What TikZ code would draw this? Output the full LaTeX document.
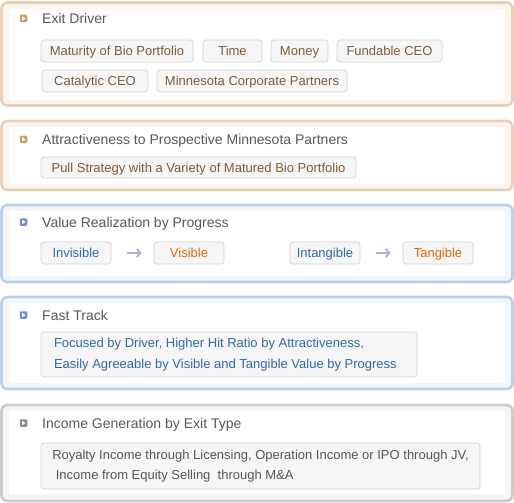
\documentclass[tikz,border=0pt]{standalone}
\usepackage{fontspec}
\setmainfont{Liberation Sans}
\usetikzlibrary{arrows.meta}
\definecolor{tanB}{HTML}{E7D1B6}
\definecolor{tanF}{HTML}{FAF5EF}
\definecolor{tanI}{HTML}{C9A062}
\definecolor{bluB}{HTML}{BBCFE8}
\definecolor{bluF}{HTML}{F2F6FB}
\definecolor{bluI}{HTML}{6F8FCF}
\definecolor{grayB}{HTML}{CBCBCB}
\definecolor{grayF}{HTML}{F5F5F5}
\definecolor{grayI}{HTML}{8C8C8C}
\definecolor{titleC}{HTML}{585858}
\definecolor{tagB}{HTML}{D2D2D2}
\definecolor{tagF}{HTML}{F6F6F6}
\definecolor{brownT}{HTML}{7D5B3B}
\definecolor{blueT}{HTML}{2F68B3}
\definecolor{orangeT}{HTML}{E8650E}
\definecolor{grayT}{HTML}{565656}
\definecolor{arrC}{HTML}{B4ADDA}
\begin{document}
\begin{tikzpicture}[x=1pt,y=-1pt,
  panel/.style={rounded corners=6pt,line width=2.6pt},
  tagbase/.style={draw=tagB,fill=tagF,rounded corners=3pt,line width=0.7pt,inner ysep=0pt},
  tag/.style={tagbase,minimum height=22pt,text height=9.3pt,text depth=0pt,font=\fontsize{13}{15}\selectfont},
  title/.style={anchor=base west,text=titleC,font=\fontsize{14}{16}\selectfont,inner sep=0pt},
  icon/.style={minimum size=7.5pt,inner sep=0pt,rounded corners=1.2pt},
  arr/.style={draw=arrC,line width=2pt,-{Straight Barb[length=3.5pt,width=8pt]}}]
\useasboundingbox (0,0) rectangle (514,503);
% panels
\draw[panel,draw=tanB,fill=tanF] (1.5,2.5) rectangle (512.5,105.5);
\fill[white] (9,9) rectangle (505,99.5);
\draw[panel,draw=tanB,fill=tanF] (1.5,121) rectangle (512.5,190);
\fill[white] (9,127) rectangle (505,184);
\draw[panel,draw=bluB,fill=bluF] (1.5,205) rectangle (512.5,282);
\fill[white] (9,211) rectangle (505,276);
\draw[panel,draw=bluB,fill=bluF] (1.5,297) rectangle (512.5,389);
\fill[white] (9,303) rectangle (505,383);
\draw[panel,draw=grayB,fill=grayF] (1.5,405) rectangle (512.5,501);
\fill[white] (9,411) rectangle (505,494);
% icons
\foreach \n/\y/\c in {i1/18.5/tanI,i2/139.3/tanI,i3/222/bluI,i4/315/bluI,i5/423/grayI}{
  \node[icon,fill=\c] (\n) at (23.5,\y) {};
  \fill[white] (\n.center) ++(-1.3,-2.1) -- ++(3.3,2.1) -- ++(-3.3,2.1) -- cycle;
}
% titles
\node[title] (t1) at (42,23.5) {Exit Driver};
\node[title] (t2) at (42,144.3) {Attractiveness to Prospective Minnesota Partners};
\node[title] (t3) at (42,227) {Value Realization by Progress};
\node[title] (t4) at (42,320) {Fast Track};
\node[title] (t5) at (42,428) {Income Generation by Exit Type};
% panel 1 tags
\node[tag,text=brownT,minimum width=152pt] (mat) at (117,51) {Maturity of Bio Portfolio};
\node[tag,text=brownT,minimum width=59pt] (time) at (232.5,51) {Time};
\node[tag,text=brownT,minimum width=57pt] (money) at (299.5,51) {Money};
\node[tag,text=brownT,minimum width=105pt] (fund) at (389.5,51) {Fundable CEO};
\node[tag,text=brownT,minimum width=106pt] (cat) at (95,81) {Catalytic CEO};
\node[tag,text=brownT,minimum width=190pt] (minn) at (252,81) {Minnesota Corporate Partners};
% panel 2
\node[tag,text=brownT,minimum width=315pt,minimum height=21pt] (pull) at (198.5,167.5) {Pull Strategy with a Variety of Matured Bio Portfolio};
% panel 3
\node[tag,text=blueT,minimum width=70pt] (inv) at (76,253) {Invisible};
\node[tag,text=orangeT,minimum width=70pt] (vis) at (189,253) {Visible};
\node[tag,text=blueT,minimum width=70pt] (intg) at (325,253) {Intangible};
\node[tag,text=orangeT,minimum width=70pt] (tang) at (438,253) {Tangible};
\draw[arr] ([xshift=16pt]inv.east) -- ([xshift=-12pt]vis.west);
\draw[arr] ([xshift=16pt]intg.east) -- ([xshift=-12pt]tang.west);
% panel 4
\node[tagbase,text=blueT,minimum width=376pt,minimum height=45pt,inner xsep=13pt,text width=350pt,align=flush left,font=\fontsize{13}{21}\selectfont] (fast) at (229,354.5)
  {Focused by Driver, Higher Hit Ratio by Attractiveness,\\Easily Agreeable by Visible and Tangible Value by Progress};
% panel 5
\node[tagbase,text=grayT,minimum width=439pt,minimum height=46pt,inner xsep=2pt,align=flush left,font=\fontsize{13}{20.3}\selectfont] (inc) at (260.5,466)
  {Royalty Income through Licensing, Operation Income or IPO through JV,\\\hspace*{3.6pt}Income from Equity Selling\ \ through M\&A};
\end{tikzpicture}
\end{document}
